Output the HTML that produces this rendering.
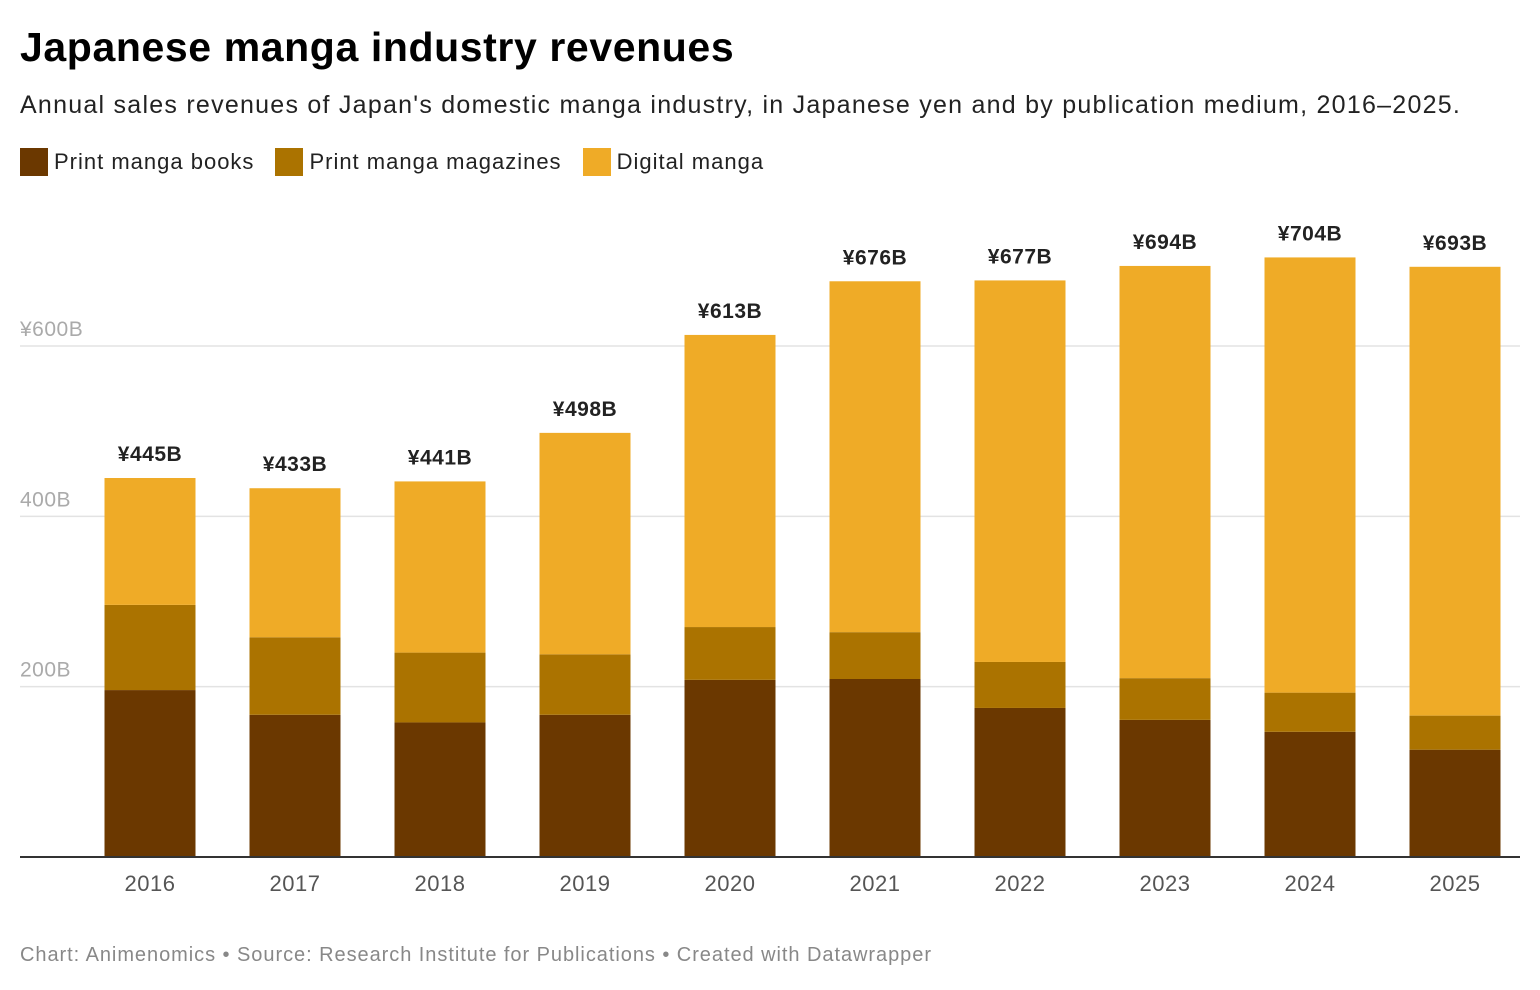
<!DOCTYPE html>
<html><head><meta charset="utf-8"><style>
body{margin:0;width:1540px;height:990px;background:#fff;font-family:"Liberation Sans",sans-serif;overflow:hidden;position:relative}
h1{position:absolute;left:20px;top:24px;margin:0;font-size:41px;font-weight:bold;color:#000;letter-spacing:0.6px}
.sub{position:absolute;left:20px;top:91px;font-size:25px;color:#222;letter-spacing:1.25px;white-space:nowrap}
.legend{position:absolute;left:20px;top:148px;font-size:22px;color:#222;display:flex;letter-spacing:1px;white-space:nowrap}
.li{display:flex;align-items:center;margin-right:21px}
.sw{width:28px;height:28px;margin-right:6px}
.foot{position:absolute;left:20px;top:944px;font-size:20px;color:#888;letter-spacing:0.95px;white-space:nowrap}
svg{position:absolute;left:0;top:0}
</style></head><body>
<h1>Japanese manga industry revenues</h1>
<div class="sub">Annual sales revenues of Japan's domestic manga industry, in Japanese yen and by publication medium, 2016–2025.</div>
<div class="legend">
<div class="li"><div class="sw" style="background:#6b3800"></div>Print manga books</div>
<div class="li"><div class="sw" style="background:#ab7300"></div>Print manga magazines</div>
<div class="li"><div class="sw" style="background:#efab27"></div>Digital manga</div>
</div>
<svg id="chart" width="1540" height="990"></svg>
<div class="foot">Chart: Animenomics • Source: Research Institute for Publications • Created with Datawrapper</div>
<script>
const years=["2016","2017","2018","2019","2020","2021","2022","2023","2024","2025"];
const books=[196,167,158,167,208,209,175,161,147,126];
const magazines=[100,91,82,71,62,55,54,49,46,40];
const digital=[149,175,201,260,343,412,448,484,511,527];
const totals=["¥445B","¥433B","¥441B","¥498B","¥613B","¥676B","¥677B","¥694B","¥704B","¥693B"];
const ticks=[200,400,600];
const tickLabels=["200B","400B","¥600B"];
const svg=document.getElementById('chart');
const NS="http://www.w3.org/2000/svg";
const y0=857,pxPer=(857-346)/600;
const y=v=>y0-v*pxPer;
const x=i=>150+i*145;
const bw=91;
function mk(t,a){const e=document.createElementNS(NS,t);for(const k in a)e.setAttribute(k,a[k]);svg.appendChild(e);return e;}
ticks.forEach((t,i)=>{
 const l=mk('line',{x1:20,x2:1520,y1:y(t),y2:y(t),stroke:'#e3e3e3','stroke-width':1.5});
 
 
 const tx=mk('text',{x:20,y:y(t)-10,'font-size':21,fill:'#aaa','font-family':'Liberation Sans','letter-spacing':0.5});
 tx.textContent=tickLabels[i];
 
 
});
const series=[[books,'#6b3800','books'],[magazines,'#ab7300','magazines'],[digital,'#efab27','digital']];
years.forEach((yr,i)=>{
 let base=0;
 series.forEach(([arr,c,n])=>{
  const r=mk('rect',{x:x(i)-bw/2,y:y(base+arr[i]),width:bw,height:arr[i]*pxPer,fill:c});
  
  
  base+=arr[i];
 });
 const t=mk('text',{x:x(i),y:y(base)-17,'text-anchor':'middle','font-size':21,'font-weight':'bold',fill:'#222','font-family':'Liberation Sans','letter-spacing':0.5});
 t.textContent=totals[i];
 
 
 const xl=mk('text',{x:x(i),y:891,'text-anchor':'middle','font-size':22,fill:'#555','font-family':'Liberation Sans','letter-spacing':0.5});
 xl.textContent=yr;
 
 
});
const ax=mk('line',{x1:20,x2:1520,y1:y0,y2:y0,stroke:'#333','stroke-width':2});


</script>
</body></html>
